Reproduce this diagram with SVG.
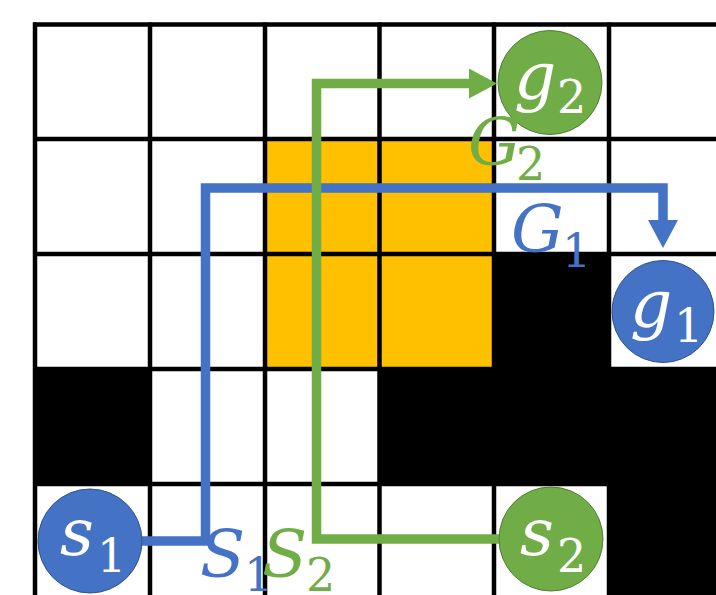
<svg xmlns="http://www.w3.org/2000/svg" width="716" height="595" viewBox="0 0 716 595">
<style>
.orange{fill:#FFC000}
.wall{fill:#000}
.grid line{stroke:#000;stroke-width:4.5}
.blue{stroke:#4472C4;fill:none;stroke-width:9.5}
.green{stroke:#70AD47;fill:none;stroke-width:9.5}
.nb{fill:#4472C4;stroke:#2F528F;stroke-width:1}
.ng{fill:#70AD47;stroke:#507E32;stroke-width:1}
.m{font-family:"DejaVu Serif","Liberation Serif",serif;font-style:italic;font-size:66px}
.sub{font-style:normal;font-size:46px}
.w{fill:#fff}
.tb{fill:#4472C4}
.tg{fill:#70AD47}
</style>
<defs>
<marker id="ab" markerUnits="userSpaceOnUse" viewBox="0 0 28 30" refX="0" refY="15" markerWidth="28" markerHeight="30" orient="auto"><path d="M0,0 L28,15 L0,30 Z" fill="#4472C4"/></marker>
<marker id="ag" markerUnits="userSpaceOnUse" viewBox="0 0 28 30" refX="0" refY="15" markerWidth="28" markerHeight="30" orient="auto"><path d="M0,0 L28,15 L0,30 Z" fill="#70AD47"/></marker>
</defs>
<rect width="716" height="595" fill="#fff"/>
<g id="cells">
<rect class="orange" x="265" y="139" width="229" height="230"/>
<rect class="wall" x="494" y="254" width="115" height="115"/>
<rect class="wall" x="33" y="369" width="119" height="115"/>
<rect class="wall" x="379" y="369" width="337" height="115"/>
<rect class="wall" x="609" y="484" width="107" height="111"/>
</g>
<g id="grid" class="grid">
<line x1="35" y1="22.5" x2="35" y2="595"/>
<line x1="150" y1="22.5" x2="150" y2="595"/>
<line x1="265" y1="22.5" x2="265" y2="595"/>
<line x1="379.5" y1="22.5" x2="379.5" y2="595"/>
<line x1="494" y1="22.5" x2="494" y2="595"/>
<line x1="609" y1="22.5" x2="609" y2="595"/>
<line x1="33" y1="24.5" x2="716" y2="24.5"/>
<line x1="33" y1="139" x2="716" y2="139"/>
<line x1="33" y1="254" x2="716" y2="254"/>
<line x1="33" y1="369" x2="716" y2="369"/>
<line x1="33" y1="484" x2="716" y2="484"/>
</g>
<g id="connectors">
<path class="blue" d="M142,541 H205.5 V188 H663 V220" marker-end="url(#ab)"/>
<path class="green" d="M499,539 H316.5 V83.5 H469" marker-end="url(#ag)"/>
</g>
<g id="s1"><circle class="nb" cx="90" cy="541" r="52"/>
<text class="m w" x="60" y="555">s<tspan class="sub" x="97" y="572">1</tspan></text></g>
<g id="s2"><circle class="ng" cx="551" cy="539" r="52"/>
<text class="m w" x="520" y="555">s<tspan class="sub" x="557" y="572">2</tspan></text></g>
<g id="g2"><circle class="ng" cx="550" cy="82.5" r="52"/>
<text class="m w" x="514" y="98">g<tspan class="sub" x="557" y="113">2</tspan></text></g>
<g id="g1"><circle class="nb" cx="663" cy="311.5" r="51"/>
<text class="m w" x="630" y="326">g<tspan class="sub" x="674" y="342">1</tspan></text></g>
<g id="labels">
<text class="m tg" x="468" y="165">G<tspan class="sub" x="516" y="180">2</tspan></text>
<text class="m tb" x="511" y="252">G<tspan class="sub" x="562" y="267">1</tspan></text>
<text class="m tb" x="200" y="577">S<tspan class="sub" x="244" y="591">1</tspan></text>
<text class="m tg" x="262" y="577">S<tspan class="sub" x="306" y="591">2</tspan></text>
</g>
</svg>
